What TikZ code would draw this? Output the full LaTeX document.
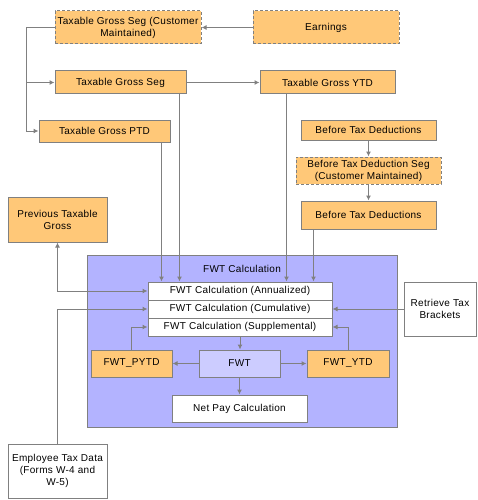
\documentclass[tikz,border=0pt]{standalone}
\usepackage{fontspec}
\setmainfont{Liberation Sans}[LetterSpace=3]
\usetikzlibrary{arrows.meta}
\definecolor{borange}{RGB}{255,200,120}
\definecolor{bpanel}{RGB}{179,179,255}
\definecolor{bfwt}{RGB}{204,204,255}
\definecolor{lgray}{RGB}{128,128,128}
\tikzset{
  base/.style={draw=lgray, line width=1pt, inner sep=0pt, align=center, font=\fontsize{10}{12}\selectfont},
  obox/.style={base, fill=borange},
  dbox/.style={obox, dash pattern=on 3pt off 2pt},
  wbox/.style={base, fill=white},
  arr/.style={draw=lgray, line width=1pt, -{Latex[length=5pt,width=5pt]}},
  darr/.style={draw=lgray, line width=1pt, {Latex[length=5pt,width=5pt]}-{Latex[length=5pt,width=5pt]}},
}
\begin{document}
\begin{tikzpicture}[x=1pt,y=-1pt]
\useasboundingbox (0,0) rectangle (478,500);
% panel
\node[base, fill=bpanel, minimum width=310pt, minimum height=172pt] (panel) at (242,341) {};
\node[font=\fontsize{10}{12}\selectfont] (ptitle) at (242,269) {FWT Calculation};
% top boxes
\node[dbox, minimum width=146pt, minimum height=33pt] (tgscm) at (128,27.5) {Taxable Gross Seg (Customer\\Maintained)};
\node[dbox, minimum width=146pt, minimum height=33pt] (earn) at (326,27.5) {Earnings};
\node[obox, minimum width=131pt, minimum height=23pt] (tgs) at (120.5,82.5) {Taxable Gross Seg};
\node[obox, minimum width=135pt, minimum height=23pt] (tgytd) at (327.5,82.5) {Taxable Gross YTD};
\node[obox, minimum width=131pt, minimum height=22pt] (tgptd) at (104.5,131) {Taxable Gross PTD};
\node[obox, minimum width=135pt, minimum height=20pt] (btd1) at (368.5,130) {Before Tax Deductions};
\node[dbox, minimum width=145pt, minimum height=27pt] (btdseg) at (368.5,170.5) {Before Tax Deduction Seg\\(Customer Maintained)};
\node[obox, minimum width=135pt, minimum height=28pt] (btd2) at (368.5,215) {Before Tax Deductions};
\node[obox, minimum width=99pt, minimum height=45pt] (ptg) at (57.5,219.5) {Previous Taxable\\Gross};
% calc boxes
\node[wbox, minimum width=184pt, minimum height=18pt] (ann) at (240,291) {FWT Calculation (Annualized)};
\node[wbox, minimum width=184pt, minimum height=18pt] (cum) at (240,309) {FWT Calculation (Cumulative)};
\node[wbox, minimum width=184pt, minimum height=18pt] (sup) at (240,327) {FWT Calculation (Supplemental)};
\node[obox, minimum width=81pt, minimum height=27pt] (pytd) at (131.5,363.5) {FWT\_PYTD};
\node[base, fill=bfwt, minimum width=81pt, minimum height=27pt] (fwt) at (239.5,363.5) {FWT};
\node[obox, minimum width=82pt, minimum height=27pt] (ytd) at (348,363.5) {FWT\_YTD};
\node[wbox, minimum width=135pt, minimum height=27pt] (net) at (239.5,408.5) {Net Pay Calculation};
\node[wbox, minimum width=72pt, minimum height=54pt] (rtb) at (440,309) {Retrieve Tax\\Brackets};
\node[wbox, minimum width=99pt, minimum height=54pt] (etd) at (57.5,471) {Employee Tax Data\\(Forms W-4 and\\W-5)};
% connectors
\draw[arr] (earn.west) -- (tgscm.east);
\coordinate (lb) at (26,27.5);
\draw[arr] (tgscm.west) -- (lb) |- (tgs.west);
\draw[arr] (lb) |- (tgptd.west);
\draw[arr] (tgs.east) -- (tgytd.west);
\draw[arr] (btd1.south) -- (btdseg.north);
\draw[arr] (btdseg.south) -- (btd2.north);
\draw[arr] ([xshift=-7pt]tgs.south east) -- ([xshift=-7pt]tgs.south east |- ann.north);
\draw[arr] ([xshift=-9pt]tgptd.south east) -- ([xshift=-9pt]tgptd.south east |- ann.north);
\draw[arr] ([xshift=27pt]tgytd.south west) -- ([xshift=27pt]tgytd.south west |- ann.north);
\draw[arr] ([xshift=13pt]btd2.south west) -- ([xshift=13pt]btd2.south west |- ann.north);
\draw[darr] (ptg.south) |- (ann.west);
\draw[arr] (etd.north) |- (cum.west);
\draw[arr] (rtb.west) -- (cum.east);
\draw[arr] (pytd.north) |- (sup.west);
\draw[arr] (ytd.north) |- (sup.east);
\draw[arr] (sup.south) -- (sup.south |- fwt.north);
\draw[arr] (fwt.west) -- (pytd.east);
\draw[arr] (fwt.east) -- (ytd.west);
\draw[arr] (fwt.south) -- (net.north);
\end{tikzpicture}
\end{document}
